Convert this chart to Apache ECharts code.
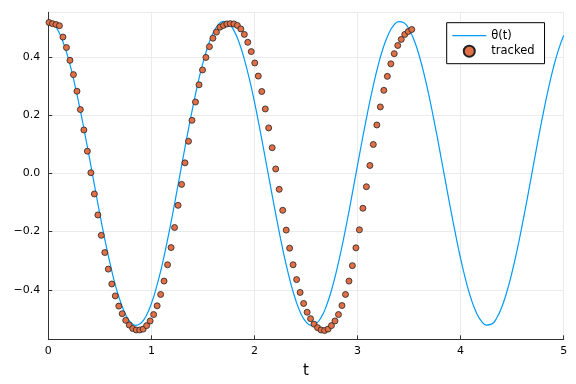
<!DOCTYPE html>
<html>
<head>
<meta charset="utf-8">
<script src="https://cdn.jsdelivr.net/npm/echarts@6/dist/echarts.min.js"></script>
<style>html,body{margin:0;padding:0;background:#fff}#c{width:576px;height:384px}</style>
</head>
<body>
<div id="c"></div>
<script>
const seriesNames = ['θ(t)', 'tracked'];
const xTicks = [0, 1, 2, 3, 4, 5];
const yTicks = [-0.4, -0.2, 0.0, 0.2, 0.4];

const lineT = [0,0.05,0.1,0.15,0.2,0.25,0.3,0.35,0.4,0.45,
0.5,0.55,0.6,0.65,0.7,0.75,0.8,0.85,0.9,0.95,
1,1.05,1.1,1.15,1.2,1.25,1.3,1.35,1.4,1.45,
1.5,1.55,1.6,1.65,1.7,1.75,1.8,1.85,1.9,1.95,
2,2.05,2.1,2.15,2.2,2.25,2.3,2.35,2.4,2.45,
2.5,2.55,2.6,2.65,2.7,2.75,2.8,2.85,2.9,2.95,
3,3.05,3.1,3.15,3.2,3.25,3.3,3.35,3.4,3.45,
3.5,3.55,3.6,3.65,3.7,3.75,3.8,3.85,3.9,3.95,
4,4.05,4.1,4.15,4.2,4.25,4.3,4.35,4.4,4.45,
4.5,4.55,4.6,4.65,4.7,4.75,4.8,4.85,4.9,4.95,5];

const lineTheta = [0.522,0.513,0.487,0.444,0.387,0.316,0.234,0.145,0.051,-0.045,
-0.140,-0.229,-0.311,-0.383,-0.441,-0.485,-0.512,-0.522,-0.514,-0.489,
-0.447,-0.390,-0.321,-0.240,-0.151,-0.057,0.039,0.134,0.224,0.307,
0.379,0.438,0.483,0.511,0.522,0.515,0.491,0.450,0.394,0.325,
0.245,0.156,0.062,-0.034,-0.128,-0.219,-0.302,-0.375,-0.435,-0.481,
-0.510,-0.522,-0.516,-0.493,-0.453,-0.398,-0.329,-0.250,-0.162,-0.068,
0.028,0.123,0.214,0.297,0.371,0.432,0.478,0.508,0.521,0.517,
0.495,0.456,0.402,0.334,0.255,0.167,0.074,-0.022,-0.117,-0.208,
-0.293,-0.367,-0.429,-0.476,-0.507,-0.521,-0.518,-0.497,-0.459,-0.405,
-0.338,-0.260,-0.173,-0.080,0.016,0.112,0.203,0.288,0.363,0.425,
0.473];

const trackedT = [0.007,0.041,0.075,0.108,0.142,0.176,0.210,0.244,0.278,0.311,
0.345,0.379,0.413,0.447,0.481,0.514,0.548,0.582,0.616,0.650,
0.684,0.717,0.751,0.785,0.819,0.853,0.887,0.920,0.954,0.988,
1.022,1.056,1.090,1.123,1.157,1.191,1.225,1.259,1.293,1.326,
1.360,1.394,1.428,1.462,1.496,1.529,1.563,1.597,1.631,1.665,
1.699,1.732,1.766,1.800,1.834,1.868,1.902,1.935,1.969,2.003,
2.037,2.071,2.105,2.138,2.172,2.206,2.240,2.274,2.308,2.341,
2.375,2.409,2.443,2.477,2.511,2.544,2.578,2.612,2.646,2.680,
2.714,2.747,2.781,2.815,2.849,2.883,2.917,2.950,2.984,3.018,
3.052,3.086,3.120,3.153,3.187,3.221,3.255,3.289,3.323,3.356,
3.390,3.424,3.458,3.492,3.526];

const trackedTheta = [0.518,0.514,0.511,0.507,0.468,0.432,0.388,0.339,0.282,0.219,
0.149,0.076,0.002,-0.071,-0.143,-0.213,-0.272,-0.329,-0.380,-0.421,
-0.456,-0.482,-0.505,-0.521,-0.533,-0.538,-0.538,-0.535,-0.523,-0.507,
-0.485,-0.455,-0.416,-0.370,-0.314,-0.255,-0.186,-0.110,-0.038,0.036,
0.110,0.182,0.245,0.304,0.355,0.398,0.435,0.464,0.485,0.502,
0.508,0.513,0.514,0.513,0.508,0.496,0.477,0.450,0.418,0.379,
0.334,0.281,0.221,0.156,0.088,0.015,-0.055,-0.127,-0.195,-0.257,
-0.314,-0.365,-0.409,-0.447,-0.477,-0.499,-0.518,-0.530,-0.538,-0.540,
-0.535,-0.523,-0.507,-0.485,-0.454,-0.416,-0.370,-0.317,-0.256,-0.194,
-0.120,-0.046,0.027,0.099,0.166,0.228,0.285,0.333,0.376,0.411,
0.439,0.460,0.477,0.487,0.494];

const FONT = 'DejaVu Sans';
const chart = echarts.init(document.getElementById('c'), null, {renderer: 'canvas'});
const lineData = lineT.map((t, i) => [t, lineTheta[i]]);
const trackedData = trackedT.map((t, i) => [t, trackedTheta[i]]);
const fmtY = v => {
  const r = Math.round(v * 10) / 10;
  return yTicks.some(y => Math.abs(y - r) < 1e-9) && Math.abs(v - r) < 1e-6 ? r.toFixed(1).replace('-', '\u2212') : '';
};

chart.setOption({
  animation: false,
  backgroundColor: '#fff',
  grid: {left: 48.3, right: 12.3, top: 12.3, bottom: 44.7, containLabel: false},
  xAxis: {
    type: 'value', min: xTicks[0], max: xTicks[xTicks.length - 1], interval: 1,
    name: 't', nameLocation: 'middle', nameGap: 24,
    nameTextStyle: {fontFamily: FONT, fontSize: 15, color: '#000'},
    axisLine: {show: true, onZero: false, lineStyle: {color: '#333', width: 1}},
    axisTick: {show: true, inside: true, length: 4, lineStyle: {color: '#333'}},
    axisLabel: {fontFamily: FONT, fontSize: 11, color: '#000', margin: 6},
    splitLine: {show: true, lineStyle: {color: '#ebebeb', width: 1}}
  },
  yAxis: {
    type: 'value', min: -0.570, max: 0.553, splitNumber: 5,
    axisLine: {show: true, onZero: false, lineStyle: {color: '#333', width: 1}},
    axisTick: {show: true, inside: true, length: 4, lineStyle: {color: '#333'}},
    axisLabel: {fontFamily: FONT, fontSize: 11, color: '#000', margin: 8,
      showMinLabel: false, showMaxLabel: false, formatter: fmtY},
    splitLine: {show: true, lineStyle: {color: '#ebebeb', width: 1}}
  },
  legend: {
    orient: 'vertical', left: 446.7, top: 22.7,
    padding: [7, 10, 6, 5.6], itemGap: 3, itemWidth: 34, itemHeight: 11,
    borderColor: '#000', borderWidth: 1, backgroundColor: '#fff',
    textStyle: {fontFamily: FONT, fontSize: 11.5, color: '#000'},
    data: [
      {name: seriesNames[0], icon: 'path://M0,0H34V1.2H0Z', itemStyle: {color: '#009AFA', borderWidth: 0}},
      {name: seriesNames[1], icon: 'circle'}
    ]
  },
  series: [
    {
      name: seriesNames[0], type: 'line', data: lineData, smooth: true,
      showSymbol: false, symbol: 'none',
      lineStyle: {color: '#009AFA', width: 1.2}, itemStyle: {color: '#009AFA'}, z: 2
    },
    {
      name: seriesNames[1], type: 'scatter', data: trackedData, symbolSize: 6,
      itemStyle: {color: '#E26F46', borderColor: '#222', borderWidth: 0.8, opacity: 1}, z: 3
    }
  ]
});
</script>
</body>
</html>
